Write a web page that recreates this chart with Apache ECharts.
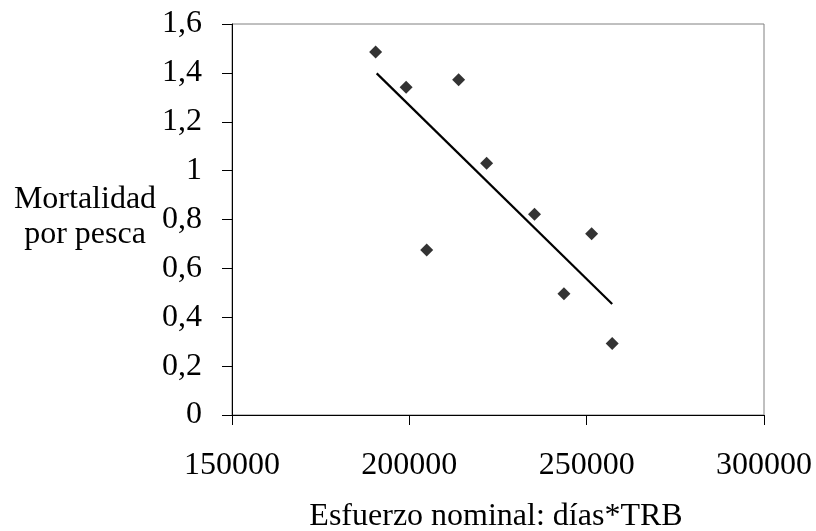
<!DOCTYPE html>
<html>
<head>
<meta charset="utf-8">
<script src="https://cdn.jsdelivr.net/npm/echarts@6/dist/echarts.min.js"></script>
<style>
html,body{margin:0;padding:0;background:#fff;}
#chart{width:816px;height:531px;}
</style>
</head>
<body>
<div id="chart"></div>
<script>
// Data
var effort = [190500, 199100, 204900, 213900, 221800, 235300, 243600, 251400, 257200];
var mortality = [1.485, 1.341, 0.675, 1.372, 1.030, 0.821, 0.496, 0.742, 0.293];
var trendX = [190800, 257200];
var trendY = [1.398, 0.454];
var xTicks = [150000, 200000, 250000, 300000];
var yTicks = [0, 0.2, 0.4, 0.6, 0.8, 1, 1.2, 1.4, 1.6];
var xTitle = 'Esfuerzo nominal: días*TRB';
var yTitle = 'Mortalidad\npor pesca';

var points = effort.map(function (x, i) { return [x, mortality[i]]; });
var trend = trendX.map(function (x, i) { return [x, trendY[i]]; });

var font = '"Liberation Serif", "Times New Roman", serif';
var chart = echarts.init(document.getElementById('chart'), null, {renderer: 'canvas'});
chart.setOption({
  animation: false,
  backgroundColor: '#ffffff',
  grid: {left: 232, right: 52, top: 24, bottom: 116, show: true, borderColor: '#808080', borderWidth: 1, backgroundColor: 'transparent'},
  xAxis: {
    type: 'value', min: xTicks[0], max: xTicks[xTicks.length - 1], interval: xTicks[1] - xTicks[0],
    splitLine: {show: false},
    axisLine: {show: true, lineStyle: {color: '#000', width: 1}},
    axisTick: {show: true, length: 10, lineStyle: {color: '#000'}},
    axisLabel: {margin: 35, color: '#000', fontFamily: font, fontSize: 32, formatter: function (v) { return String(v); }}
  },
  yAxis: {
    type: 'value', min: yTicks[0], max: yTicks[yTicks.length - 1], interval: yTicks[1] - yTicks[0],
    splitLine: {show: false},
    axisLine: {show: true, lineStyle: {color: '#000', width: 1}},
    axisTick: {show: true, length: 10, lineStyle: {color: '#000'}},
    axisLabel: {margin: 30, color: '#000', fontFamily: font, fontSize: 32,
      formatter: function (v) { return String(Math.round(v * 10) / 10).replace('.', ','); }}
  },
  graphic: [
    {type: 'text', x: 85, y: 217, style: {text: yTitle, fill: '#000', font: '32px ' + font, textAlign: 'center', textVerticalAlign: 'middle', lineHeight: 35}},
    {type: 'text', x: 496, y: 517, style: {text: xTitle, fill: '#000', font: '32px ' + font, textAlign: 'center', textVerticalAlign: 'middle'}}
  ],
  series: [
    {type: 'line', data: trend, symbol: 'none', lineStyle: {color: '#000', width: 2.2}, z: 2},
    {type: 'scatter', data: points, symbol: 'diamond', symbolSize: 13, itemStyle: {color: '#000'}, z: 3}
  ]
});
</script>
</body>
</html>
